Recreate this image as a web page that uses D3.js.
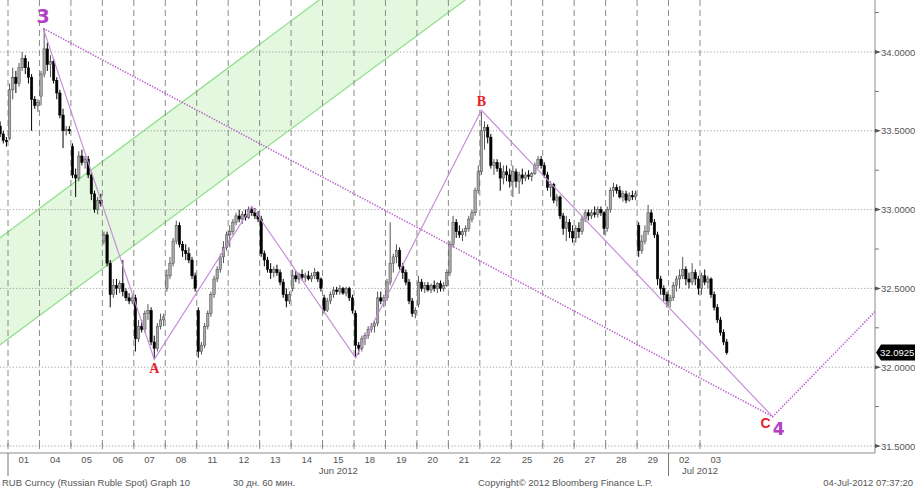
<!DOCTYPE html>
<html><head><meta charset="utf-8">
<script src="https://cdn.jsdelivr.net/npm/d3@7"></script>
<style>
body{margin:0;background:#fff}
svg{display:block}
text{font-family:"Liberation Sans",Arial,sans-serif}
</style>
</head><body>
<svg id="c" width="915" height="488"></svg>
<script>
// ---- data ----
const dayLabels = ["", "01","04","05","06","07","08","11","12","13","14","15","18","19","20","21","22","25","26","27","28","29","02","03"];
const monthLabels = ["Jun 2012", "Jul 2012"];
const monthLabelPos = [10.5, 22];
const monthStarts = [0, 21];
const yMajor = [31.5, 32.0, 32.5, 33.0, 33.5, 34.0];
const yMinor = [31.75, 32.25, 32.75, 33.25, 33.75, 34.25];
const lastPrice = 32.0925;

// hourly OHLC per trading day (first entry = tail of 31 May)
const ohlc = [
 [[33.53,33.56,33.46,33.48],[33.48,33.50,33.42,33.44],[33.44,33.46,33.40,33.43]],
 [[33.45,33.80,33.44,33.76],[33.76,33.90,33.70,33.84],[33.84,33.88,33.74,33.80],[33.80,33.93,33.78,33.90],[33.90,34.00,33.88,33.96],[33.96,33.98,33.86,33.90],[33.90,33.94,33.80,33.84],[33.84,33.86,33.50,33.70],[33.70,33.72,33.64,33.66],[33.66,33.70,33.62,33.68]],
 [[33.72,33.88,33.66,33.86],[33.86,34.15,33.84,34.02],[34.02,34.06,33.88,33.92],[33.92,33.98,33.84,33.94],[33.94,33.96,33.80,33.82],[33.82,33.84,33.70,33.74],[33.74,33.76,33.58,33.60],[33.60,33.64,33.39,33.50],[33.50,33.53,33.47,33.51],[33.51,33.53,33.48,33.50]],
 [[33.40,33.42,33.20,33.22],[33.22,33.26,33.08,33.20],[33.20,33.37,33.18,33.34],[33.34,33.38,33.28,33.30],[33.30,33.34,33.26,33.32],[33.32,33.34,33.20,33.22],[33.22,33.24,33.06,33.10],[33.10,33.12,32.98,33.00],[33.00,33.08,32.97,33.06],[33.06,33.10,33.02,33.04]],
 [[32.80,32.86,32.78,32.84],[32.84,32.86,32.64,32.66],[32.66,32.68,32.38,32.46],[32.46,32.56,32.44,32.52],[32.52,32.56,32.46,32.50],[32.50,32.55,32.47,32.53],[32.53,32.68,32.45,32.48],[32.48,32.50,32.42,32.44],[32.44,32.47,32.40,32.42],[32.42,32.46,32.40,32.44]],
 [[32.44,32.46,32.10,32.18],[32.18,32.30,32.16,32.26],[32.26,32.30,32.22,32.24],[32.24,32.36,32.22,32.34],[32.34,32.40,32.30,32.36],[32.36,32.38,32.14,32.16],[32.16,32.20,32.05,32.12],[32.12,32.28,32.10,32.26],[32.26,32.34,32.24,32.30],[32.30,32.34,32.26,32.32]],
 [[32.50,32.62,32.48,32.58],[32.58,32.70,32.56,32.66],[32.66,32.82,32.64,32.80],[32.80,32.93,32.78,32.90],[32.90,32.92,32.76,32.78],[32.78,32.80,32.70,32.74],[32.74,32.78,32.68,32.72],[32.72,32.76,32.66,32.68],[32.68,32.70,32.56,32.58],[32.58,32.60,32.48,32.50]],
 [[32.36,32.38,32.06,32.10],[32.10,32.16,32.08,32.14],[32.14,32.28,32.12,32.26],[32.26,32.36,32.24,32.34],[32.34,32.48,32.32,32.46],[32.46,32.58,32.44,32.56],[32.56,32.64,32.54,32.62],[32.62,32.72,32.60,32.70],[32.70,32.80,32.66,32.76],[32.76,32.86,32.74,32.84]],
 [[32.84,32.90,32.76,32.86],[32.86,32.94,32.84,32.92],[32.92,32.98,32.90,32.96],[32.96,33.00,32.92,32.94],[32.94,32.99,32.91,32.97],[32.97,33.00,32.93,32.95],[32.95,33.02,32.94,33.00],[33.00,33.02,32.96,32.98],[32.98,33.01,32.94,32.96],[32.96,32.99,32.92,32.94]],
 [[32.94,32.96,32.70,32.72],[32.72,32.74,32.64,32.68],[32.68,32.70,32.60,32.62],[32.62,32.66,32.56,32.60],[32.60,32.64,32.57,32.62],[32.62,32.65,32.58,32.60],[32.60,32.62,32.52,32.54],[32.54,32.56,32.44,32.46],[32.46,32.50,32.38,32.42],[32.42,32.48,32.40,32.46]],
 [[32.50,32.62,32.48,32.58],[32.58,32.61,32.54,32.56],[32.56,32.60,32.53,32.59],[32.59,32.62,32.55,32.57],[32.57,32.60,32.54,32.58],[32.58,32.61,32.55,32.56],[32.56,32.60,32.54,32.58],[32.58,32.63,32.56,32.60],[32.60,32.61,32.54,32.56],[32.56,32.57,32.48,32.50]],
 [[32.44,32.46,32.34,32.36],[32.36,32.44,32.35,32.42],[32.42,32.48,32.40,32.46],[32.46,32.51,32.44,32.49],[32.49,32.51,32.46,32.48],[32.48,32.52,32.46,32.50],[32.50,32.51,32.46,32.47],[32.47,32.51,32.45,32.50],[32.50,32.51,32.42,32.44],[32.44,32.46,32.34,32.36]],
 [[32.34,32.36,32.06,32.14],[32.14,32.16,32.08,32.12],[32.12,32.20,32.10,32.18],[32.18,32.22,32.14,32.20],[32.20,32.26,32.18,32.24],[32.24,32.28,32.22,32.26],[32.26,32.30,32.22,32.28],[32.28,32.48,32.26,32.44],[32.44,32.48,32.40,32.42],[32.42,32.46,32.38,32.44]],
 [[32.44,32.56,32.42,32.54],[32.54,32.92,32.52,32.66],[32.66,32.72,32.60,32.70],[32.70,32.78,32.66,32.74],[32.74,32.76,32.62,32.64],[32.64,32.66,32.56,32.60],[32.60,32.62,32.52,32.54],[32.54,32.56,32.40,32.42],[32.42,32.44,32.32,32.34],[32.34,32.38,32.31,32.36]],
 [[32.40,32.58,32.38,32.54],[32.54,32.56,32.48,32.50],[32.50,32.54,32.47,32.52],[32.52,32.54,32.48,32.49],[32.49,32.53,32.47,32.52],[32.52,32.55,32.48,32.50],[32.50,32.54,32.47,32.53],[32.53,32.55,32.48,32.50],[32.50,32.54,32.48,32.52],[32.52,32.62,32.51,32.60]],
 [[32.60,32.80,32.58,32.78],[32.78,32.96,32.76,32.92],[32.92,32.94,32.82,32.86],[32.86,32.90,32.82,32.84],[32.84,32.88,32.80,32.86],[32.86,32.90,32.83,32.88],[32.88,32.96,32.86,32.94],[32.94,33.00,32.92,32.98],[32.98,33.14,32.96,33.12],[33.12,33.28,33.10,33.24]],
 [[33.24,33.62,33.22,33.50],[33.50,33.56,33.38,33.52],[33.52,33.54,33.42,33.46],[33.46,33.48,33.26,33.28],[33.28,33.32,33.22,33.30],[33.30,33.32,33.24,33.26],[33.26,33.30,33.12,33.20],[33.20,33.28,33.16,33.24],[33.24,33.28,33.18,33.22],[33.22,33.26,33.14,33.18]],
 [[33.18,33.28,33.08,33.24],[33.24,33.26,33.14,33.18],[33.18,33.24,33.10,33.22],[33.22,33.26,33.16,33.20],[33.20,33.24,33.18,33.22],[33.22,33.25,33.19,33.21],[33.21,33.24,33.18,33.23],[33.23,33.30,33.22,33.28],[33.28,33.34,33.26,33.32],[33.32,33.34,33.26,33.28]],
 [[33.28,33.30,33.20,33.22],[33.22,33.24,33.12,33.14],[33.14,33.18,33.08,33.16],[33.16,33.17,33.04,33.06],[33.06,33.10,33.02,33.08],[33.08,33.09,32.94,32.96],[32.96,32.98,32.84,32.88],[32.88,32.96,32.80,32.92],[32.92,32.94,32.82,32.86],[32.86,32.90,32.79,32.82]],
 [[32.82,32.90,32.79,32.88],[32.88,32.92,32.82,32.86],[32.86,32.96,32.84,32.94],[32.94,33.00,32.92,32.98],[32.98,33.00,32.93,32.96],[32.96,33.00,32.94,32.98],[32.98,33.02,32.95,32.97],[32.97,33.02,32.95,33.00],[33.00,33.02,32.96,32.98],[32.98,32.99,32.84,32.88]],
 [[32.88,33.02,32.86,33.00],[33.00,33.14,32.98,33.12],[33.12,33.17,33.08,33.14],[33.14,33.16,33.10,33.12],[33.12,33.15,33.07,33.08],[33.08,33.12,33.05,33.10],[33.10,33.12,33.04,33.06],[33.06,33.11,33.05,33.09],[33.09,33.12,33.06,33.08],[33.08,33.12,33.06,33.10]],
 [[32.90,32.92,32.70,32.74],[32.74,32.84,32.72,32.80],[32.80,32.90,32.78,32.86],[32.86,33.03,32.84,32.98],[32.98,33.00,32.90,32.92],[32.92,32.94,32.82,32.84],[32.84,32.86,32.52,32.56],[32.56,32.58,32.46,32.50],[32.50,32.52,32.42,32.46],[32.46,32.48,32.38,32.42]],
 [[32.42,32.46,32.38,32.44],[32.44,32.54,32.42,32.52],[32.52,32.58,32.48,32.56],[32.56,32.62,32.50,32.58],[32.58,32.70,32.56,32.62],[32.62,32.64,32.52,32.56],[32.56,32.60,32.50,32.54],[32.54,32.66,32.52,32.60],[32.60,32.62,32.52,32.56],[32.56,32.58,32.46,32.50]],
 [[32.50,32.60,32.46,32.58],[32.58,32.62,32.52,32.54],[32.54,32.58,32.50,32.56],[32.56,32.57,32.44,32.46],[32.46,32.48,32.36,32.38],[32.38,32.40,32.28,32.30],[32.30,32.32,32.20,32.22],[32.22,32.24,32.14,32.16],[32.16,32.18,32.08,32.0925]]
];

// Elliott-style pivots (day position, price)
const pivotLabels = ["3", "A", "", "", "B", "C"];
const pivotT = [1.12, 4.65, 7.75, 11.05, 15.05, 24.31];
const pivotPrice = [34.15, 32.05, 33.02, 32.06, 33.63, 31.686];
const projEndT = 27.6, projEndPrice = 32.36;
// green channel (day position, price)
const channelUpper = [[-0.26, 32.82], [9.92, 34.334]];
const channelLower = [[-0.26, 32.141], [14.56, 34.334]];

// ---- drawing ----
const svg = d3.select("#c");
const plotL = 0, plotR = 875, plotT = 0, plotB = 453;
const x = d3.scaleLinear().domain([0, 22]).range([8, 700]);
const y = d3.scaleLinear().domain([31.5, 34]).range([446, 52]);

svg.append("defs").append("clipPath").attr("id","clip")
  .append("rect").attr("x",plotL).attr("y",plotT).attr("width",plotR-plotL).attr("height",plotB-plotT);

const g = svg.append("g").attr("clip-path","url(#clip)");

// channel fill + lines
const line = d3.line().x(d => x(d[0])).y(d => y(d[1]));
g.append("path")
  .attr("d", line([channelUpper[0], channelUpper[1], channelLower[1], channelLower[0]]) + "Z")
  .attr("fill", "#e3f8df");
[channelUpper, channelLower].forEach(c => g.append("path").attr("d", line(c))
  .attr("fill","none").attr("stroke","#93e08e").attr("stroke-width",1.3));

// gridlines
yMajor.forEach(v => g.append("line").attr("x1",plotL).attr("x2",plotR).attr("y1",y(v)).attr("y2",y(v))
  .attr("stroke","#8a8a8a").attr("stroke-width",0.8).attr("stroke-dasharray","1.2,2"));
d3.range(0, 23).forEach(t => g.append("line").attr("x1",x(t)).attr("x2",x(t)).attr("y1",0).attr("y2",y(31.5))
  .attr("stroke","#8a8a8a").attr("stroke-width",1).attr("stroke-dasharray","6,4"));

// candles
const bars = [];
ohlc.forEach((day, i) => {
  const d = i - 1;
  const off = i === 0 ? 10 - day.length : 0;
  day.forEach((b, k) => bars.push({t: d + (k + off + 0.5) / 10, o:b[0], h:b[1], l:b[2], c:b[3]}));
});
const cg = g.append("g");
bars.forEach(b => {
  const up = b.c >= b.o;
  cg.append("line").attr("x1",x(b.t)).attr("x2",x(b.t)).attr("y1",y(b.h)).attr("y2",y(b.l))
    .attr("stroke", up ? "#555" : "#000").attr("stroke-width",1);
  const top = y(Math.max(b.o,b.c)), bot = y(Math.min(b.o,b.c));
  cg.append("rect").attr("x",x(b.t)-1.2).attr("width",2.4).attr("y",top).attr("height",Math.max(1,bot-top))
    .attr("fill", up ? "#a9a9a9" : "#000").attr("stroke", up ? "#444" : "#000").attr("stroke-width",0.5);
});

// pattern lines
const piv = pivotT.map((t,i) => [t, pivotPrice[i]]);
g.append("path").attr("d", line(piv)).attr("fill","none").attr("stroke","#c78fd8").attr("stroke-width",1.2);
g.append("path").attr("d", line([piv[0], piv[5], [projEndT, projEndPrice]])).attr("fill","none")
  .attr("stroke","#b866cc").attr("stroke-width",1.6).attr("stroke-dasharray","1.4,1.4");

// pivot labels
const lab = (txt, px, py, col, size, fam) => svg.append("text").attr("x",px).attr("y",py).attr("text-anchor","middle")
  .attr("fill",col).attr("font-size",size).attr("font-weight","bold").style("font-family",fam).text(txt);
lab(pivotLabels[0], x(pivotT[0]), y(pivotPrice[0]) - 5, "#b23fc4", 19, "DejaVu Sans");
lab(pivotLabels[1], x(pivotT[1]), y(pivotPrice[1]) + 14, "#e8202a", 14, "Liberation Serif");
lab(pivotLabels[4], x(pivotT[4]), y(pivotPrice[4]) - 4, "#e8202a", 14, "Liberation Serif");
lab(pivotLabels[5], x(pivotT[5]) - 7, y(pivotPrice[5]) + 11, "#e8202a", 14, "Liberation Sans");
lab("4", x(pivotT[5]) + 6, y(pivotPrice[5]) + 18, "#b23fc4", 17, "DejaVu Sans");

// axes frame
svg.append("line").attr("x1",plotR).attr("x2",plotR).attr("y1",0).attr("y2",plotB).attr("stroke","#8c8c8c");
svg.append("line").attr("x1",0).attr("x2",plotR).attr("y1",plotB).attr("y2",plotB).attr("stroke","#8c8c8c");

// y axis ticks + labels
yMinor.forEach(v => svg.append("line").attr("x1",plotR).attr("x2",plotR+4).attr("y1",y(v)).attr("y2",y(v)).attr("stroke","#777"));
yMajor.forEach(v => {
  svg.append("path").attr("d",`M${plotR},${y(v)-2}L${plotR+6},${y(v)}L${plotR},${y(v)+2}Z`).attr("fill","#555");
  svg.append("text").attr("x",881).attr("y",y(v)+3.5).attr("font-size",9.5).attr("fill","#555").text(d3.format(".4f")(v));
});
// last price tag
const ly = y(lastPrice);
svg.append("path").attr("d",`M${plotR+1},${ly}L${plotR+6},${ly-8}L915,${ly-8}L915,${ly+8}L${plotR+6},${ly+8}Z`).attr("fill","#000");
svg.append("text").attr("x",880).attr("y",ly+3.5).attr("font-size",9.5).attr("fill","#fff").text(d3.format(".4f")(lastPrice));

// x axis ticks & labels
d3.range(0, 23).forEach(t => svg.append("line").attr("x1",x(t)).attr("x2",x(t)).attr("y1",443).attr("y2",449).attr("stroke","#888"));
dayLabels.forEach((lb, i) => {
  if (!lb) return;
  svg.append("text").attr("x", x(i - 1 + 0.5)).attr("y",463).attr("text-anchor","middle")
    .attr("font-size",9.5).attr("fill","#555").text(lb);
});
monthStarts.forEach(t => svg.append("line").attr("x1",x(t)).attr("x2",x(t)).attr("y1",plotB).attr("y2",476).attr("stroke","#777"));
monthLabels.forEach((m, i) => svg.append("text").attr("x",x(monthLabelPos[i])).attr("y",474).attr("text-anchor","middle")
  .attr("font-size",9.5).attr("fill","#555").text(m));

// footer
const foot = (txt, px, anchor) => svg.append("text").attr("x",px).attr("y",486).attr("text-anchor",anchor)
  .attr("font-size",9.5).attr("fill","#555").text(txt);
foot("RUB Curncy (Russian Ruble Spot) Graph 10", 2, "start");
foot("30 дн. 60 мин.", 233, "start");
foot("Copyright\u00A9 2012 Bloomberg Finance L.P.", 478, "start");
foot("04-Jul-2012 07:37:20", 913, "end");
</script>
</body></html>
